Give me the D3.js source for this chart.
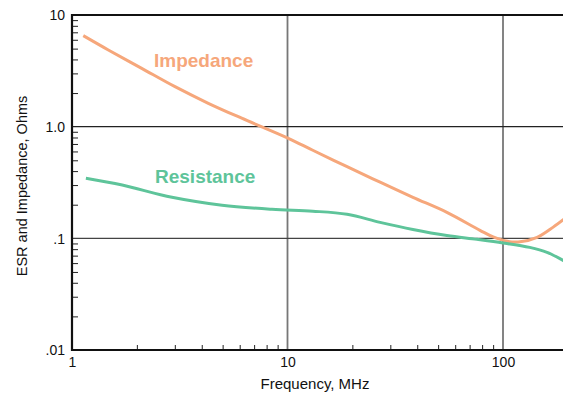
<!DOCTYPE html>
<html><head><meta charset="utf-8">
<script src="https://cdn.jsdelivr.net/npm/d3@7"></script>
<style>
html,body{margin:0;padding:0;background:#fff;overflow:hidden}
svg{display:block;font-family:"Liberation Sans",Arial,Helvetica,sans-serif}
</style></head><body>
<svg id="c" width="563" height="393"></svg>
<script>
// ---- data ----
const impFreq = [1.128, 1.474, 2.106, 3.006, 4.29, 6.13, 10.09, 13.1, 18.9, 26.9, 38.2, 54.9, 78.2, 90, 105, 120, 144, 171, 200];
const impVal  = [6.53, 4.86, 3.33, 2.28, 1.62, 1.19, 0.787, 0.615, 0.438, 0.318, 0.233, 0.171, 0.118, 0.103, 0.094, 0.093, 0.102, 0.126, 0.158];
const resFreq = [1.16, 1.71, 2.91, 4.97, 8.47, 13.1, 18.9, 26.9, 38.2, 54.9, 75.7, 100, 133, 160, 190, 200];
const resVal  = [0.345, 0.30, 0.233, 0.198, 0.182, 0.175, 0.164, 0.139, 0.12, 0.106, 0.098, 0.091, 0.083, 0.075, 0.0635, 0.060];
const yTickValues = [0.01, 0.1, 1, 10];
const yTickLabels = [".01", ".1", "1.0", "10"];
const xTickValues = [1, 10, 100];
const xTickLabels = ["1", "10", "100"];
const seriesNames = ["Impedance", "Resistance"];
const seriesColors = ["#F6A77B", "#5EC49A"];

// ---- scales ----
const svg = d3.select("#c");
const x = d3.scaleLog().domain([1, 200]).range([72, 72 + 215.5 * Math.log10(200)]);
const y = d3.scaleLog().domain([0.01, 10]).range([350, 15]);
const x0 = 72, x1 = x(200), yTop = 15, yBot = 350;

svg.append("defs").append("clipPath").attr("id","pc")
  .append("rect").attr("x", x0).attr("y", yTop).attr("width", x1 - x0).attr("height", yBot - yTop);

// minor ticks
const yMinor = [];
[0.01, 0.1, 1].forEach(b => { for (let k = 2; k <= 9; k++) yMinor.push(b * k); });
const xMinor = [];
[1, 10, 100].forEach(b => { for (let k = 2; k <= 9; k++) if (b * k <= 200) xMinor.push(b * k); });

// grid lines
const grid = svg.append("g");
grid.selectAll("line.vx").data([10, 100]).join("line")
  .attr("x1", d => x(d)).attr("x2", d => x(d)).attr("y1", yTop).attr("y2", yBot)
  .attr("stroke", "#777").attr("stroke-width", 1.8);
grid.selectAll("line.hy").data([1, 0.1]).join("line")
  .attr("x1", x0).attr("x2", x1).attr("y1", d => y(d)).attr("y2", d => y(d))
  .attr("stroke", d => d === 1 ? "#222" : "#444").attr("stroke-width", 1.3);

// minor tick axes
svg.append("g").attr("transform", `translate(${x0},0)`)
  .call(d3.axisRight(y).tickValues(yMinor).tickSize(6).tickFormat(""))
  .call(g => g.select(".domain").remove())
  .call(g => g.selectAll("line").attr("stroke", "#222").attr("stroke-width", 1));
svg.append("g").attr("transform", `translate(0,${yBot})`)
  .call(d3.axisTop(x).tickValues(xMinor).tickSize(5).tickFormat(""))
  .call(g => g.select(".domain").remove())
  .call(g => g.selectAll("line").attr("stroke", "#222").attr("stroke-width", 1));

// labeled axes
svg.append("g").attr("transform", `translate(${x0 - 7},0)`)
  .call(d3.axisLeft(y).tickValues(yTickValues).tickSize(0).tickFormat((d, i) => yTickLabels[i]))
  .call(g => g.select(".domain").remove())
  .call(g => g.selectAll("text").attr("font-size", 14).attr("fill", "#111")
    .attr("font-family", '"Liberation Sans",Arial,sans-serif').attr("x", 0).attr("dy", "0.35em"));
svg.append("g").attr("transform", `translate(0,${yBot + 4})`)
  .call(d3.axisBottom(x).tickValues(xTickValues).tickSize(0).tickFormat((d, i) => xTickLabels[i]))
  .call(g => g.select(".domain").remove())
  .call(g => g.selectAll("text").attr("font-size", 14).attr("fill", "#111")
    .attr("font-family", '"Liberation Sans",Arial,sans-serif'));

// frame
svg.append("line").attr("x1", x0).attr("x2", x0).attr("y1", yTop - 1).attr("y2", yBot + 1)
  .attr("stroke", "#111").attr("stroke-width", 2.2);
svg.append("line").attr("x1", x0 - 1).attr("x2", x1).attr("y1", yBot).attr("y2", yBot)
  .attr("stroke", "#111").attr("stroke-width", 2.2);
svg.append("line").attr("x1", x0 - 1).attr("x2", x1).attr("y1", yTop).attr("y2", yTop)
  .attr("stroke", "#111").attr("stroke-width", 2.2);

// curves
const line = d3.line().x(d => x(d[0])).y(d => y(d[1])).curve(d3.curveCatmullRom.alpha(0.5));
const series = [
  impFreq.map((f, i) => [f, impVal[i]]),
  resFreq.map((f, i) => [f, resVal[i]])
];
svg.append("g").attr("clip-path", "url(#pc)").selectAll("path").data(series).join("path")
  .attr("d", line).attr("fill", "none")
  .attr("stroke", (d, i) => seriesColors[i]).attr("stroke-width", 3)
  .attr("stroke-linejoin", "round").attr("stroke-linecap", "butt");

// series labels
svg.append("text").attr("x", 154).attr("y", 67).text(seriesNames[0])
  .attr("fill", seriesColors[0]).attr("font-size", 19).attr("font-weight", "bold");
svg.append("text").attr("x", 155).attr("y", 183).text(seriesNames[1])
  .attr("fill", seriesColors[1]).attr("font-size", 19).attr("font-weight", "bold");

// axis titles
svg.append("text").attr("x", 315).attr("y", 389).attr("text-anchor", "middle")
  .attr("font-size", 15).attr("fill", "#111").text("Frequency, MHz");
svg.append("text").attr("transform", "translate(27,186) rotate(-90)").attr("text-anchor", "middle")
  .attr("font-size", 14.5).attr("fill", "#111").text("ESR and Impedance, Ohms");
</script>
</body></html>
